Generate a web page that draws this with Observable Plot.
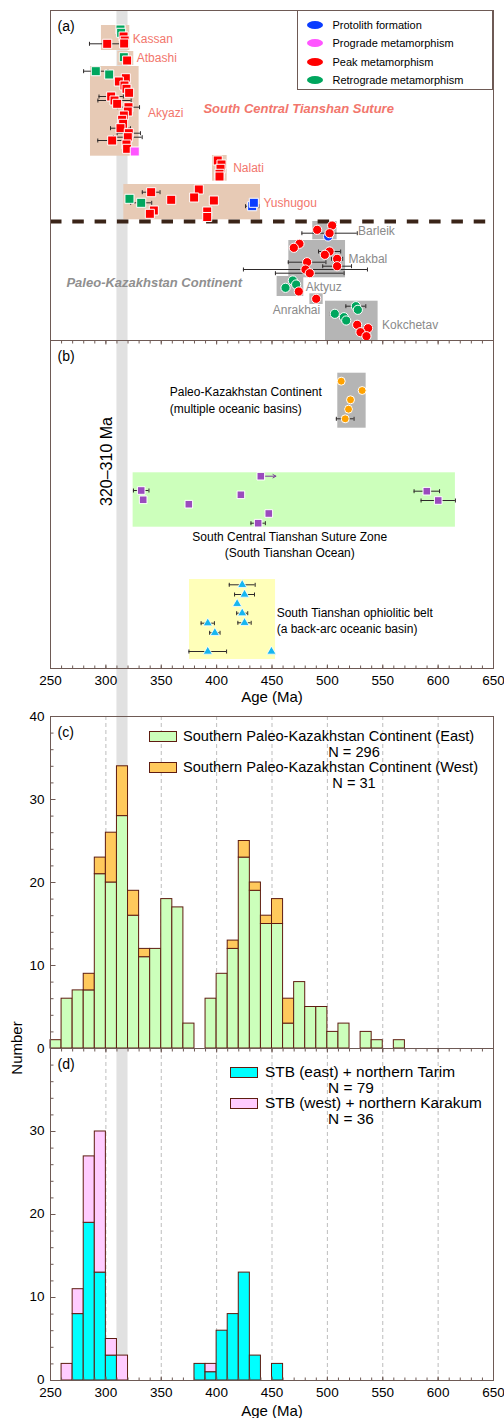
<!DOCTYPE html>
<html>
<head>
<meta charset="utf-8">
<script src="https://cdn.jsdelivr.net/npm/d3@7"></script>
<script src="https://cdn.jsdelivr.net/npm/@observablehq/plot@0.6"></script>
<style>
  html,body{margin:0;padding:0;background:#fff;}
  #wrap{position:relative;width:504px;height:1418px;overflow:hidden;font-family:'Liberation Sans',Arial,Helvetica,sans-serif;color:#000;}
  #wrap svg{overflow:visible;}
  .lbl{position:absolute;white-space:nowrap;line-height:1;}
  .sw{position:absolute;box-sizing:border-box;}
</style>
</head>
<body>
<div id="wrap"></div>
<script>
// ================= DATA =================
const ageDomain = [250, 650];
const ageTicks = [250, 300, 350, 400, 450, 500, 550, 600, 650];
const ageMinorTicks = [250,260,270,280,290,300,310,320,330,340,350,360,370,380,390,400,410,420,430,440,450,460,470,480,490,500,510,520,530,540,550,560,570,580,590,600,610,620,630,640,650];
const gridAges = [300, 350, 400, 450, 500, 550, 600];
const bandAges = [310, 320];           // 320–310 Ma band
const countTicks = [0, 10, 20, 30, 40];
const countMinorTicks = [0,2,4,6,8,10,12,14,16,18,20,22,24,26,28,30,32,34,36,38,40];

// ---- panel (a): localities (age range, sample-row range) ----
const aBoxName   = ["Kassan","Atbashi","Akyazi","Nalati","Yushugou","Barleik","Makbal","Aktyuz","Anrakhai","Kokchetav"];
const aBoxAgeMin = [296, 310.8, 286.1, 396.3, 316.2, 486.8, 465.2, 454.6, 484.2, 498.3];
const aBoxAgeMax = [321.6, 325.2, 330, 409.5, 439.6, 508.8, 516.4, 478.7, 496.2, 545.8];
const aBoxRowTop = [25, 51, 66, 155, 184, 221, 240, 276, 293.3, 300.7];
const aBoxRowBot = [50, 65, 155.7, 180.7, 219.3, 239.3, 277.3, 296, 304, 340];
const aBoxZone   = ["suture","suture","suture","suture","suture","continent","continent","continent","continent","continent"];
const sutureRow  = 221;

// ---- panel (a): ages (Ma), sample row, 2σ error, metamorphic stage ----
const aAge = [313.2,313.8,316,317,316.5,301.2, 316.2,319.2,
  290.9,303,318,311.7,316.8,318.6,321,304.8,307.8,310.2,320.4,319.8,316.2,314.7,315.6,313.2,320.7,319.8,305.7,318.6,319.2,326.1,
  401,404.4,403.5,402.6,402.6,
  321.3,331.9,340.9,343.3,339.7,359,383.9,379.7,397.5,391.5,391.5,432.1,433.6,
  504.3,490.8,500.7,502,
  474.8,469.7,502,497.7,508.8,481.7,508.8,480.2,484.1,
  468.8,471.8,462.2,474.2,
  489.9,
  525.7,527.5,506.7,514.9,517,526.9,536.8,529.9,535.3];
const aRow = [29,32.3,36,40,43,43.3, 56.7,60,
  70.7,74,77.7,81,85,88.3,92.3,96,100,103.3,106.7,111,115,119.3,123.3,127.7,132.7,136.7,140,144,148.3,151,
  160,164,168.3,173.3,176,
  198.3,202.3,191.7,210,213.3,199.3,189,197,200,211,216.5,205.7,202.3,
  225,229.3,236,232.7,
  243.3,247.3,251,254.3,258.3,261.7,265.7,269,272.7,
  280,284,287.3,291,
  298.3,
  305.7,309.3,313.3,316.7,320,324.3,327.7,331.7,335.7];
const aErr = [0,0,0,0,0,16, 0,0,
  11,0,0,0,0,0,0,11,15,0,10,0,0,0,0,9,10.5,13,13,0,0,0,
  0,0,0,0,0,
  0,9.5,8,0,0,3,0,0,0,0,0,6,0,
  0,0,0,25,
  0,0,10,0,5,17,13,56,31,
  0,0,3,0,
  0,
  9,0,4,0,0,0,4,0,0];
const aStage = ["retro","retro","peak","peak","peak","peak", "retro","peak",
  "retro","retro","peak","peak","peak","peak","peak","peak","peak","peak","peak","peak","peak","peak","peak","peak","peak","peak","peak","peak","peak","prograde",
  "peak","peak","peak","peak","peak",
  "retro","retro","peak","peak","peak","peak","peak","peak","peak","peak","peak","protolith","protolith",
  "peak","peak","protolith","peak",
  "peak","peak","peak","peak","peak","peak","peak","peak","peak",
  "retro","retro","retro","peak",
  "peak",
  "retro","retro","retro","retro","retro","peak","peak","peak","peak"];
const stageKeys   = ["protolith","prograde","peak","retro"];
const stageLabels = ["Protolith formation","Prograde metamorphism","Peak metamorphism","Retrograde metamorphism"];

// ---- panel (b): oceanic-basin ages ----
const bBoxName   = ["pkc","sct","sto"];
const bBoxAgeMin = [509.4, 324.6, 375.5];
const bBoxAgeMax = [535, 615.6, 453.2];
const bBoxRowTop = [372.7, 472.3, 579];
const bBoxRowBot = [427.7, 526.7, 659];

const pkcAge = [512.5, 531.4, 520.9, 519.1, 516.1];
const pkcRow = [380.7, 390, 399.3, 408.7, 418.3];
const pkcErr = [0, 1.5, 0, 3, 8];

const sctAge = [439.9, 331.9, 333.7, 421.9, 374.9, 447.1, 437.5, 589.8, 600.1];
const sctRow = [475.7, 490, 499.3, 494.3, 503.7, 513, 522.7, 490.7, 500];
const sctErr = [0, 7, 3, 0, 0, 3, 6.5, 11.5, 15.5];
const sctMinOnly = [453.5, null, null, null, null, null, null, null, null]; // ">" minimum age arrow

const stoAge = [423.1, 425.2, 418.5, 423.1, 425.2, 392, 398.4, 392, 449.5];
const stoRow = [584.3, 594, 603.3, 612.7, 622.3, 622.7, 632.3, 651, 651];
const stoErr = [11.7, 9, 0, 5, 6, 6, 4.7, 17, 0];

// ---- panel (c): histogram, 10 Ma bins ----
const binWidth = 10;
const cBins = [250,260,270,280,290,300,310,320,330,340,350,360,370,380,390,400,410,420,430,440,450,460,470,480,490,500,510,520,530,540,550,560];
const cEast = [1,6,7,7,21,20,28,16,11,12,18,17,3,0,6,9,12,23,19,15,15,3,8,5,5,2,3,0,2,1,0,1];
const cWest = [0,0,0,2,2,6,6,3,1,0,0,0,0,0,0,0,1,2,1,1,3,3,0,0,0,0,0,0,0,0,0,0];
const cLegend = ["Southern Paleo-Kazakhstan Continent (East)", "Southern Paleo-Kazakhstan Continent (West)"];
const cN = [296, 31];

// ---- panel (d) ----
const dBins = [260,270,280,290,300,310,380,390,400,410,420,430,450];
const dEast = [0,8,19,13,3,0,2,1,6,8,13,3,2];
const dWest = [2,3,8,17,2,3,0,1,0,0,0,0,0];
const dLegend = ["STB (east) + northern Tarim", "STB (west) + northern Karakum"];
const dN = [79, 36];

// ================= STYLE =================
const FONT = "'Liberation Sans', Arial, Helvetica, sans-serif";
const W = 504, ML = 50, MR = 11;
const pxPerMa = (W - ML - MR) / (ageDomain[1] - ageDomain[0]);
const frameColor = "#6e5a55";
const barStroke = "#5e1c10";
const stageColor = {protolith:"#0a3cff", prograde:"#ff55ff", peak:"#ff0000", retro:"#00a65e"};
const zoneBoxColor = {suture:"#e7cab5", continent:"#b5b5b5"};
const zoneLabelColor = {suture:"#f2766c", continent:"#8a8a8a"};
const bBoxColor = {pkc:"#b5b5b5", sct:"#ccffbb", sto:"#ffffb9"};
const cColors = ["#ccffbb", "#ffc95c"];
const dColors = ["#00ffff", "#ffccff"];
const errColor = "#2e2a2a";
const labelOffsets = { // px offsets of locality labels from box edge
  Kassan:[3,1], Atbashi:[3,0], Akyazi:[9,2], Nalati:[6,0], Yushugou:[3,1],
  Barleik:[21,1], Makbal:[3,0], Aktyuz:[2,1], Kokchetav:[4,4]
};

const wrap = document.getElementById("wrap");
function addSvg(svg, top){ svg.style.position="absolute"; svg.style.left="0px"; svg.style.top=top+"px"; wrap.appendChild(svg); }
function addText(txt, x, y, size, anchor){
  const d=document.createElement("div"); d.className="lbl"; d.textContent=txt;
  d.style.left=x+"px"; d.style.top=y+"px"; d.style.fontSize=size+"px";
  d.style.transform=`translate(${anchor==="middle"?"-50%":"0"},-50%)`;
  wrap.appendChild(d); return d;
}
function addSwatch(x,y,w,h,fill,stroke,radius){
  const d=document.createElement("div"); d.className="sw";
  Object.assign(d.style,{left:x+"px",top:y+"px",width:w+"px",height:h+"px",background:fill,border:stroke?`1px solid ${stroke}`:"none",borderRadius:radius||"0"});
  wrap.appendChild(d); return d;
}

function tickSym(dx, dy){ return {draw(ctx){ ctx.moveTo(0,0); ctx.lineTo(dx,dy); }}; }
function capSym(h){ return {draw(ctx){ ctx.moveTo(0,-h); ctx.lineTo(0,h); }}; }
function errMarks(pts){
  const e = pts.filter(d => d.err > 0);
  return [
    Plot.ruleY(e, {y:"row", x1:d=>d.age-d.err, x2:d=>d.age+d.err, stroke:errColor, strokeWidth:1}),
    Plot.dot(e, {x:d=>d.age-d.err, y:"row", symbol:capSym(2), stroke:errColor, fill:"none", strokeWidth:1}),
    Plot.dot(e, {x:d=>d.age+d.err, y:"row", symbol:capSym(2), stroke:errColor, fill:"none", strokeWidth:1})
  ];
}
function xTicks(yVal, dir){
  return [
    Plot.dot(ageMinorTicks, {x:d=>d, y:()=>yVal, symbol:tickSym(0,3*dir), stroke:frameColor, fill:"none", strokeWidth:1}),
    Plot.dot(ageTicks, {x:d=>d, y:()=>yVal, symbol:tickSym(0,4*dir), stroke:frameColor, fill:"none", strokeWidth:1})
  ];
}
function yTicks(majors){
  return [
    Plot.dot(countMinorTicks, {x:()=>ageDomain[0], y:d=>d, symbol:tickSym(3,0), stroke:frameColor, fill:"none", strokeWidth:1}),
    Plot.dot(majors, {x:()=>ageDomain[0], y:d=>d, symbol:tickSym(5,0), stroke:frameColor, fill:"none", strokeWidth:1})
  ];
}
const baseStyle = {background:"transparent", fontFamily:FONT, fontSize:"13.5px", overflow:"visible", color:"#000"};
function panelLetter(t){ return Plot.text([t], {frameAnchor:"top-left", dx:7, dy:16, textAnchor:"start", lineAnchor:"middle", fontSize:14, fill:"#000"}); }

// ================= BACKGROUND BAND =================
addSvg(Plot.plot({
  width:W, height:1418, marginLeft:ML, marginRight:MR, marginTop:10, marginBottom:38,
  style:baseStyle, x:{domain:ageDomain, axis:null},
  marks:[ Plot.rect([bandAges], {x1:d=>d[0], x2:d=>d[1], fill:"#e1e1e1"}) ]
}), 0);

// ================= PANEL (a) =================
const boxesA = aBoxName.map((name,i)=>({name, x1:aBoxAgeMin[i], x2:aBoxAgeMax[i], y1:aBoxRowTop[i], y2:aBoxRowBot[i], zone:aBoxZone[i]}));
const ptsA = aAge.map((age,i)=>({age, row:aRow[i], err:aErr[i], stage:aStage[i], zone: aRow[i] < sutureRow ? "suture" : "continent"}));
const sideLabels = boxesA.filter(b=>b.name!=="Anrakhai").map(b=>{
  const o = labelOffsets[b.name];
  return {name:b.name, zone:b.zone, x:b.x2 + o[0]/pxPerMa, y:(b.y1+b.y2)/2 + o[1]};
});
const belowLabels = boxesA.filter(b=>b.name==="Anrakhai").map(b=>({name:b.name, zone:b.zone, x:b.x2 - 3/pxPerMa, y:b.y2 + 6}));

addSvg(Plot.plot({
  width:W, height:340, marginLeft:ML, marginRight:MR, marginTop:10, marginBottom:0,
  style:baseStyle,
  x:{domain:ageDomain, axis:null},
  y:{domain:[10,340], range:[10,340], axis:null},
  color:{type:"identity"},
  marks:[
    Plot.rect(boxesA, {x1:"x1", x2:"x2", y1:"y1", y2:"y2", fill:d=>zoneBoxColor[d.zone]}),
    Plot.ruleY([sutureRow], {stroke:"#3a2418", strokeWidth:4, strokeDasharray:"11.5,10.8"}),
    ...errMarks(ptsA),
    Plot.dot(ptsA.filter(d=>d.zone==="suture"), {x:"age", y:"row", symbol:"square", r:5.1, fill:d=>stageColor[d.stage], stroke:"#fff", strokeWidth:1}),
    Plot.dot(ptsA.filter(d=>d.zone==="continent"), {x:"age", y:"row", symbol:"circle", r:4.6, fill:d=>stageColor[d.stage], stroke:"#fff", strokeWidth:1}),
    Plot.text(sideLabels, {x:"x", y:"y", text:"name", textAnchor:"start", lineAnchor:"middle", fontSize:12, fill:d=>zoneLabelColor[d.zone]}),
    Plot.text(belowLabels, {x:"x", y:"y", text:"name", textAnchor:"end", lineAnchor:"middle", fontSize:12, fill:d=>zoneLabelColor[d.zone]}),
    Plot.text([{t:"South Central Tianshan Suture", x:388.1, y:108}], {x:"x", y:"y", text:"t", textAnchor:"start", lineAnchor:"middle", fontSize:13, fontWeight:"bold", fontStyle:"italic", fill:zoneLabelColor.suture}),
    Plot.text([{t:"Paleo-Kazakhstan Continent", x:264.4, y:282}], {x:"x", y:"y", text:"t", textAnchor:"start", lineAnchor:"middle", fontSize:13, fontWeight:"bold", fontStyle:"italic", fill:"#8f8f8f"}),
    Plot.frame({stroke:frameColor}),
    panelLetter("(a)")
  ]
}), 0);

// legend (a)
addSwatch(297, 10, 196, 80, "#fff", frameColor);
stageKeys.forEach((k,i)=>{
  const cy = 25 + i*18.3;
  addSwatch(307, cy-4, 16, 8, stageColor[k], null, "50%");
  addText(stageLabels[i], 332.5, cy, 11, "start");
});

// ================= PANEL (b) =================
const boxesB = bBoxName.map((k,i)=>({k, x1:bBoxAgeMin[i], x2:bBoxAgeMax[i], y1:bBoxRowTop[i], y2:bBoxRowBot[i]}));
const pkc = pkcAge.map((age,i)=>({age, row:pkcRow[i], err:pkcErr[i]}));
const sct = sctAge.map((age,i)=>({age, row:sctRow[i], err:sctErr[i], to:sctMinOnly[i]}));
const sto = stoAge.map((age,i)=>({age, row:stoRow[i], err:stoErr[i]}));
const bTexts = [
  {t:"Paleo-Kazakhstan Continent", x:357.7, y:392, a:"start"},
  {t:"(multiple oceanic basins)", x:357.7, y:409, a:"start"},
  {t:"South Central Tianshan Suture Zone", x:466, y:537, a:"middle"},
  {t:"(South Tianshan Ocean)", x:466, y:553, a:"middle"},
  {t:"South Tianshan ophiolitic belt", x:454.2, y:613, a:"start"},
  {t:"(a back-arc oceanic basin)", x:454.2, y:629, a:"start"}
];

addSvg(Plot.plot({
  width:W, height:386, marginLeft:ML, marginRight:MR, marginTop:10, marginBottom:48,
  style:baseStyle,
  x:{domain:ageDomain},
  y:{domain:[340,668], range:[10,338], axis:null},
  color:{type:"identity"},
  marks:[
    Plot.rect(boxesB, {x1:"x1", x2:"x2", y1:"y1", y2:"y2", fill:d=>bBoxColor[d.k]}),
    ...errMarks(pkc), ...errMarks(sct), ...errMarks(sto),
    Plot.arrow(sct.filter(d=>d.to), {x1:"age", y1:"row", x2:"to", y2:"row", stroke:"#7a3d99", strokeWidth:1, headLength:5}),
    Plot.dot(pkc, {x:"age", y:"row", symbol:"circle", r:4, fill:"#ffa200", stroke:"#fff", strokeWidth:1}),
    Plot.dot(sct, {x:"age", y:"row", symbol:"square", r:4.3, fill:"#9a4bbd", stroke:"#fff", strokeWidth:1}),
    Plot.dot(sto, {x:"age", y:"row", symbol:"triangle", r:3.4, fill:"#16b6f0", stroke:"#fff", strokeWidth:0.8}),
    Plot.text(bTexts.filter(d=>d.a==="start"), {x:"x", y:"y", text:"t", textAnchor:"start", lineAnchor:"middle", fontSize:12, fill:"#000"}),
    Plot.text(bTexts.filter(d=>d.a==="middle"), {x:"x", y:"y", text:"t", textAnchor:"middle", lineAnchor:"middle", fontSize:12, fill:"#000"}),
    Plot.text([{t:"320–310 Ma", x:301.3, y:461}], {x:"x", y:"y", text:"t", rotate:-90, textAnchor:"middle", lineAnchor:"middle", fontSize:16, fill:"#000"}),
    Plot.frame({stroke:frameColor}),
    ...xTicks(340, 1), ...xTicks(668, -1),
    Plot.axisX({ticks:ageTicks, tickSize:0, tickPadding:7, label:null, fontSize:13.5}),
    Plot.text(["Age (Ma)"], {frameAnchor:"bottom", dy:29, fontSize:15, lineAnchor:"middle", fill:"#000"}),
    panelLetter("(b)")
  ]
}), 330);

// ================= HISTOGRAMS =================
function stackBins(bins, a, b, colA, colB){
  const out=[];
  bins.forEach((x,i)=>{
    if (a[i]>0) out.push({x1:x, x2:x+binWidth, y1:0, y2:a[i], fill:colA});
    if (b[i]>0) out.push({x1:x, x2:x+binWidth, y1:a[i], y2:a[i]+b[i], fill:colB});
  });
  return out;
}

// panel (c)
addSvg(Plot.plot({
  width:W, height:352, marginLeft:ML, marginRight:MR, marginTop:10, marginBottom:10,
  style:baseStyle,
  x:{domain:ageDomain, axis:null},
  y:{domain:[0,40]},
  color:{type:"identity"},
  marks:[
    Plot.ruleX(gridAges, {stroke:"#bdbdbd", strokeDasharray:"4,3", strokeWidth:1}),
    Plot.rect(stackBins(cBins, cEast, cWest, cColors[0], cColors[1]), {x1:"x1", x2:"x2", y1:"y1", y2:"y2", fill:"fill", stroke:barStroke, strokeWidth:1}),
    Plot.frame({stroke:frameColor}),
    ...yTicks(countTicks),
    Plot.axisY({ticks:countTicks, tickSize:0, tickPadding:6, label:null, fontSize:13.5}),
    panelLetter("(c)")
  ]
}), 706);

// panel (d)
addSvg(Plot.plot({
  width:W, height:380, marginLeft:ML, marginRight:MR, marginTop:10, marginBottom:38,
  style:baseStyle,
  x:{domain:ageDomain},
  y:{domain:[0,40]},
  color:{type:"identity"},
  marks:[
    Plot.ruleX(gridAges, {stroke:"#bdbdbd", strokeDasharray:"4,3", strokeWidth:1}),
    Plot.rect(stackBins(dBins, dEast, dWest, dColors[0], dColors[1]), {x1:"x1", x2:"x2", y1:"y1", y2:"y2", fill:"fill", stroke:barStroke, strokeWidth:1}),
    Plot.frame({stroke:frameColor}),
    ...yTicks(countTicks),
    ...xTicks(0, -1), ...xTicks(40, 1),
    Plot.axisY({ticks:countTicks.filter(v=>v<40), tickSize:0, tickPadding:6, label:null, fontSize:13.5, dy:-1}),
    Plot.axisX({ticks:ageTicks, tickSize:0, tickPadding:7, label:null, fontSize:13.5}),
    Plot.text(["Age (Ma)"], {frameAnchor:"bottom", dy:31, fontSize:15, lineAnchor:"middle", fill:"#000"}),
    panelLetter("(d)")
  ]
}), 1038);

// histogram legends
function histLegend(labels, ns, colors, sx, tx, nx, y0, dy, size){
  labels.forEach((lab,i)=>{
    const y = y0 + i*dy;
    addSwatch(sx, y-5, 28, 11, colors[i], barStroke);
    addText(lab, tx, y, size, "start");
    addText("N = " + ns[i], nx, y + 15.5, size, "middle");
  });
}
histLegend(cLegend, cN, cColors, 149, 183, 354, 736, 31, 14.6);
histLegend(dLegend, dN, dColors, 230, 265, 351, 1072, 31, 15.4);

// y-axis title
const num = addText("Number", 16, 1048, 15, "middle");
num.style.transform = "translate(-50%,-50%) rotate(-90deg)";
</script>
</body>
</html>
